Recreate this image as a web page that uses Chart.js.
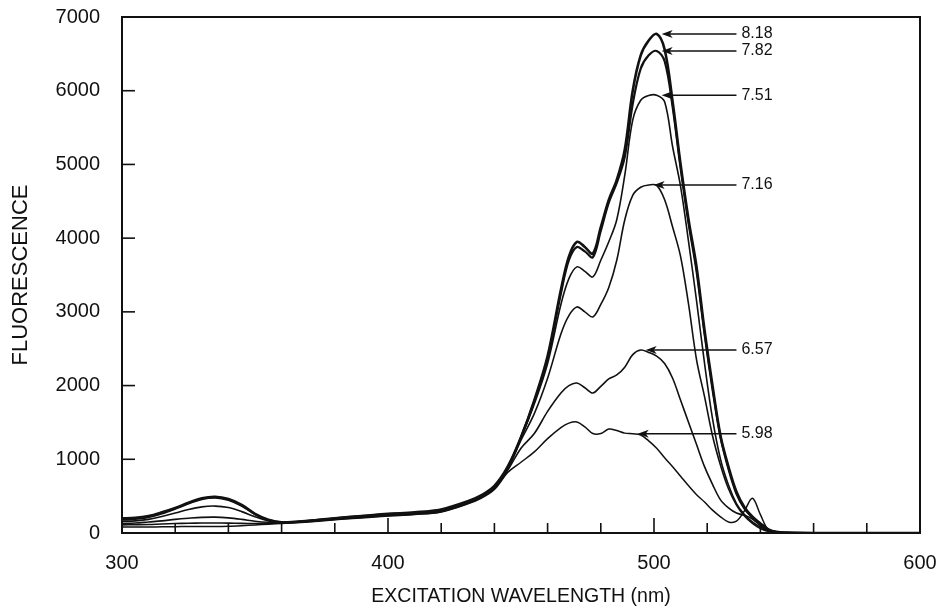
<!DOCTYPE html>
<html>
<head>
<meta charset="utf-8">
<script src="https://cdn.jsdelivr.net/npm/chart.js@4.4.1/dist/chart.umd.min.js"></script>
<style>
  html, body { margin: 0; padding: 0; background: #fff; }
  #wrap { width: 944px; height: 610px; }
</style>
</head>
<body>
<div id="wrap"><canvas id="spectra"></canvas></div>
<script>
// excitation wavelength grid (nm)
const wavelengths = [300, 305, 310, 315, 320, 325, 330, 335, 340, 345, 350, 355, 360, 370, 380, 390, 400, 410, 420, 430, 435,
  440, 445, 450, 455, 460, 465, 468, 471, 474, 477, 480, 483, 486, 489, 492, 495, 498, 501, 504, 507, 510, 513, 516, 519, 522,
  525, 528, 531, 534, 537, 540, 543, 546, 550, 560, 580, 600];

// fluorescence for each pH
const ph818 = [200, 205, 230, 280, 340, 410, 470, 490, 460, 380, 260, 180, 145, 165, 200, 230, 260, 280, 320, 430, 510,
  640, 900, 1300, 1800, 2400, 3300, 3750, 3950, 3880, 3790, 4150, 4520, 4790, 5200, 6000, 6480, 6680, 6770, 6560, 5850, 5000, 4250, 3610, 2750, 2000,
  1320, 900, 560, 350, 220, 130, 50, 15, 5, 0, 0, 0];
const ph782 = [180, 190, 215, 265, 330, 400, 460, 480, 450, 370, 255, 175, 145, 165, 200, 230, 255, 275, 315, 425, 505,
  630, 890, 1300, 1790, 2370, 3250, 3700, 3880, 3820, 3740, 4100, 4480, 4750, 5100, 5820, 6300, 6480, 6540, 6400, 5780, 4950, 4200, 3550, 2700, 1950,
  1300, 870, 530, 330, 210, 125, 45, 12, 4, 0, 0, 0];
const ph751 = [160, 165, 185, 225, 270, 320, 355, 365, 345, 290, 220, 165, 145, 165, 195, 225, 250, 270, 310, 420, 500,
  620, 880, 1290, 1750, 2300, 3100, 3450, 3610, 3550, 3474, 3700, 3950, 4250, 4850, 5600, 5870, 5935, 5940, 5850, 5240, 4700, 3950, 3150, 2300, 1550,
  1000, 650, 400, 250, 150, 80, 30, 8, 3, 0, 0, 0];
const ph716 = [130, 135, 150, 165, 185, 200, 212, 215, 205, 185, 160, 145, 140, 160, 190, 215, 240, 262, 300, 410, 490,
  610, 870, 1260, 1620, 2100, 2700, 2950, 3067, 3000, 2931, 3100, 3330, 3700, 4247, 4580, 4690, 4720, 4715, 4520, 4150, 3750, 3100, 2350, 1850, 1320,
  920, 600, 380, 230, 130, 60, 20, 5, 2, 0, 0, 0];
const ph657 = [110, 112, 115, 122, 128, 132, 135, 136, 134, 130, 128, 128, 135, 155, 185, 210, 235, 255, 290, 400, 480,
  600, 850, 1150, 1350, 1650, 1900, 2000, 2035, 1970, 1900, 1990, 2090, 2144, 2250, 2420, 2483, 2450, 2400, 2300, 2100, 1800, 1500, 1200, 900, 660,
  450, 340, 270, 240, 190, 100, 25, 5, 2, 0, 0, 0];
const ph598 = [80, 80, 82, 84, 86, 88, 88, 88, 92, 100, 110, 120, 130, 150, 180, 205, 230, 250, 285, 395, 470,
  590, 820, 960, 1100, 1280, 1430, 1490, 1506, 1440, 1350, 1350, 1410, 1390, 1355, 1345, 1330, 1250, 1150, 1020, 900, 770, 640, 520, 420, 310,
  220, 150, 160, 300, 470, 250, 40, 8, 2, 0, 0, 0];

const phLabels = ['8.18', '7.82', '7.51', '7.16', '6.57', '5.98'];
const phSeries = [ph818, ph782, ph751, ph716, ph657, ph598];
// wavelength on each curve that its label arrow points at
const arrowAt = [501, 501, 501, 498, 495, 492];

const yTicks = [0, 1000, 2000, 3000, 4000, 5000, 6000, 7000];
const xTickLabels = [300, 400, 500, 600];

const widths = [2.6, 2.2, 1.6, 1.6, 1.6, 1.5];

const datasets = phSeries.map((vals, i) => ({
  label: phLabels[i],
  data: wavelengths.map((w, j) => ({ x: w, y: vals[j] })),
  borderColor: '#111',
  borderWidth: widths[i],
  pointRadius: 0,
  fill: false,
  tension: 0.35
}));

// box frame plus inward tick marks
const frameTicks = {
  id: 'frameTicks',
  afterDatasetsDraw(chart) {
    const { ctx, chartArea: a, scales: { x, y } } = chart;
    ctx.save();
    ctx.strokeStyle = '#111';
    ctx.lineWidth = 1.6;
    x.ticks.forEach(t => {
      const px = x.getPixelForValue(t.value);
      const len = t.value % 100 === 0 ? 15 : 10;
      ctx.beginPath();
      ctx.moveTo(px, a.bottom);
      ctx.lineTo(px, a.bottom - len);
      ctx.stroke();
    });
    y.ticks.forEach(t => {
      const py = y.getPixelForValue(t.value);
      ctx.beginPath();
      ctx.moveTo(a.left, py);
      ctx.lineTo(a.left + 13, py);
      ctx.stroke();
    });
    ctx.lineWidth = 2;
    ctx.strokeRect(a.left, a.top, a.right - a.left, a.bottom - a.top);
    ctx.restore();
  }
};

// pH labels with arrows
const phArrows = {
  id: 'phArrows',
  afterDatasetsDraw(chart) {
    const { ctx, scales: { x, y } } = chart;
    ctx.save();
    ctx.strokeStyle = '#111';
    ctx.fillStyle = '#111';
    ctx.lineWidth = 1.5;
    ctx.font = '16px "Liberation Sans", Arial, sans-serif';
    ctx.textBaseline = 'middle';
    phLabels.forEach((lab, i) => {
      const j = wavelengths.indexOf(arrowAt[i]);
      const tipX = x.getPixelForValue(arrowAt[i]) + 5;
      const py = y.getPixelForValue(phSeries[i][j]);
      const startX = x.getPixelForValue(531);
      ctx.beginPath();
      ctx.moveTo(startX, py);
      ctx.lineTo(tipX + 6, py);
      ctx.stroke();
      ctx.beginPath();
      ctx.moveTo(tipX, py);
      ctx.lineTo(tipX + 11, py - 4);
      ctx.lineTo(tipX + 8, py);
      ctx.lineTo(tipX + 11, py + 4);
      ctx.closePath();
      ctx.fill();
      ctx.fillText(lab, startX + 5, py);
    });
    ctx.restore();
  }
};

const tickFont = { family: '"Liberation Sans", Arial, sans-serif', size: 20 };

new Chart(document.getElementById('spectra'), {
  type: 'line',
  data: { datasets },
  options: {
    responsive: true,
    maintainAspectRatio: false,
    animation: false,
    layout: { padding: { top: 17, right: 24, left: 0, bottom: 0 } },
    plugins: { legend: { display: false }, tooltip: { enabled: false } },
    scales: {
      x: {
        type: 'linear',
        min: 300,
        max: 600,
        grid: { display: false },
        border: { display: false },
        ticks: {
          stepSize: 20,
          autoSkip: false,
          maxRotation: 0,
          color: '#111',
          font: tickFont,
          padding: 10,
          callback: v => xTickLabels.includes(v) ? String(v) : ''
        },
        title: {
          display: true,
          text: 'EXCITATION WAVELENGTH (nm)',
          color: '#111',
          font: { family: '"Liberation Sans", Arial, sans-serif', size: 19.5 },
          padding: { top: 2, bottom: 2 }
        },
        afterFit: s => { s.height = 77; s.paddingRight = 0; }
      },
      y: {
        min: 0,
        max: 7000,
        grid: { display: false },
        border: { display: false },
        afterBuildTicks: s => { s.ticks = yTicks.map(v => ({ value: v })); },
        ticks: {
          color: '#111',
          font: tickFont,
          padding: 14,
          callback: v => String(v)
        },
        title: {
          display: true,
          text: 'FLUORESCENCE',
          color: '#111',
          font: { family: '"Liberation Sans", Arial, sans-serif', size: 22 },
          padding: { top: 8, bottom: 8 }
        },
        afterFit: s => { s.width = 122; s.paddingTop = 0; s.paddingBottom = 0; }
      }
    }
  },
  plugins: [frameTicks, phArrows]
});
</script>
</body>
</html>
